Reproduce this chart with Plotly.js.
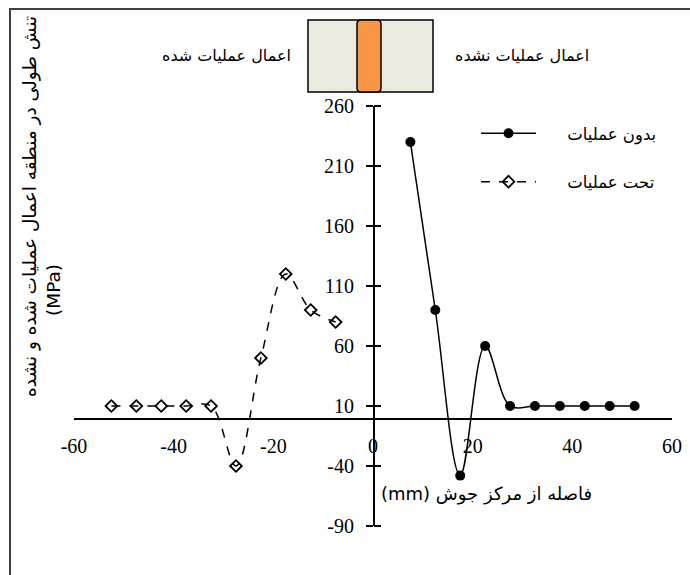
<!DOCTYPE html>
<html>
<head>
<meta charset="utf-8">
<script src="https://cdn.plot.ly/plotly-3.0.1.min.js"></script>
<style>
html,body{margin:0;padding:0;background:#fff;}
#chart{width:690px;height:575px;}
</style>
</head>
<body>
<div id="chart"></div>
<script>
// ---- data ----
const xUntreated = [7.5, 12.5, 17.5, 22.5, 27.5, 32.5, 37.5, 42.5, 47.5, 52.5];
const yUntreated = [230, 90, -48, 60, 10, 10, 10, 10, 10, 10];
const xTreated = [-52.5, -47.5, -42.5, -37.5, -32.5, -27.5, -22.5, -17.5, -12.5, -7.5];
const yTreated = [10, 10, 10, 10, 10, -40, 50, 120, 90, 80];
const nameUntreated = 'بدون عملیات';
const nameTreated = 'تحت عملیات';
const xTicks = [-60, -40, -20, 0, 20, 40, 60];
const yTicks = [-90, -40, 10, 60, 110, 160, 210, 260];
const yTitle1 = 'تنش طولی در منطقه اعمال عملیات شده و نشده';
const yTitle2 = '(MPa)';
const xTitle = '(mm) فاصله از مرکز جوش';
const labelTreatedSide = 'اعمال عملیات شده';
const labelUntreatedSide = 'اعمال عملیات نشده';

// ---- layout helpers (pixel -> paper) ----
const W = 690, H = 575;
const M = {l: 74, r: 18, t: 106, b: 49};
const PW = W - M.l - M.r, PH = H - M.t - M.b;
const X = px => (px - M.l) / PW;
const Y = py => (H - M.b - py) / PH;

const persian = 'DejaVu Sans, sans-serif';
const serif = 'Liberation Serif, serif';
const pad = '\u00A0\u00A0\u00A0\u00A0\u00A0';

const traces = [
  {
    x: xUntreated, y: yUntreated, name: pad + nameUntreated, type: 'scatter', mode: 'lines+markers',
    line: {color: '#000', width: 1.5, shape: 'spline', smoothing: 1},
    marker: {symbol: 'circle', size: 10, color: '#000'},
    legendgroup: 'a'
  },
  {
    x: xTreated, y: yTreated, name: pad + nameTreated, type: 'scatter', mode: 'lines+markers',
    line: {color: '#000', width: 1.5, dash: 'dash', shape: 'spline', smoothing: 1},
    marker: {symbol: 'diamond-open', size: 9, color: '#000', line: {width: 1.8, color: '#000'}},
    legendgroup: 'b'
  },
  // invisible trace to carry right-side tick marks on the y axis
  {x: [0], y: [0], yaxis: 'y2', mode: 'markers', marker: {opacity: 0}, showlegend: false, hoverinfo: 'skip'}
];

// rounded bar path
function roundRect(x0, y0, x1, y1, r) {
  const rx = r / PW, ry = r / PH;
  const a = X(x0), b = X(x1), c = Y(y1), d = Y(y0);
  return `M${a + rx},${d} L${b - rx},${d} Q${b},${d} ${b},${d - ry} L${b},${c + ry} Q${b},${c} ${b - rx},${c} L${a + rx},${c} Q${a},${c} ${a},${c + ry} L${a},${d - ry} Q${a},${d} ${a + rx},${d} Z`;
}

function note(px, py, text, size, extra) {
  return Object.assign({xref: 'paper', yref: 'paper', x: X(px), y: Y(py), text: text, showarrow: false,
    xanchor: 'center', yanchor: 'middle', font: {family: persian, size: size, color: '#000'}}, extra || {});
}

const layout = {
  width: W, height: H,
  margin: M,
  paper_bgcolor: '#fff', plot_bgcolor: 'rgba(0,0,0,0)',
  showlegend: true,
  legend: {
    x: X(476), y: Y(116), xanchor: 'left', yanchor: 'top',
    font: {family: persian, size: 16.5, color: '#000'},
    bgcolor: 'rgba(0,0,0,0)', traceorder: 'grouped', tracegroupgap: 24,
    itemwidth: 55
  },
  xaxis: {
    range: [-60, 60], tickvals: xTicks, ticktext: xTicks.map(String),
    anchor: 'free', position: 90 / 350,
    showline: true, linecolor: '#000', linewidth: 1.5,
    ticks: '', showgrid: false, zeroline: false,
    tickfont: {family: serif, size: 20, color: '#000'},
    ticklabelstandoff: 9
  },
  yaxis: {
    range: [-90, 260], tickvals: yTicks, ticktext: yTicks.map(String),
    anchor: 'free', position: 0.5, side: 'left',
    showline: true, linecolor: '#000', linewidth: 1.5,
    ticks: 'outside', ticklen: 7, tickwidth: 1.5, tickcolor: '#000',
    showgrid: false, zeroline: false,
    tickfont: {family: serif, size: 20, color: '#000'},
    ticklabelstandoff: 8
  },
  yaxis2: {
    range: [-90, 260], tickvals: yTicks, overlaying: 'y',
    anchor: 'free', position: 0.5, side: 'right',
    showline: false, ticks: 'outside', ticklen: 7, tickwidth: 1.5, tickcolor: '#000',
    showticklabels: false, showgrid: false, zeroline: false
  },
  shapes: [
    // outer frame (left and top edges)
    {type: 'rect', xref: 'paper', yref: 'paper', x0: X(10), x1: X(760), y0: Y(640), y1: Y(9),
     line: {color: '#404040', width: 2}, fillcolor: 'rgba(0,0,0,0)', layer: 'below'},
    // specimen picture
    {type: 'rect', xref: 'paper', yref: 'paper', x0: X(308), x1: X(433), y0: Y(92), y1: Y(20),
     line: {color: '#000', width: 1.5}, fillcolor: '#ECEBE0'},
    {type: 'path', xref: 'paper', yref: 'paper', path: roundRect(357, 20, 381, 92, 4),
     line: {color: '#000', width: 1.5}, fillcolor: '#F79646'}
  ],
  annotations: [
    note(226, 56, labelTreatedSide, 16),
    note(522, 56, labelUntreatedSide, 16),
    note(30, 207, yTitle1, 18.5, {textangle: -90}),
    note(53, 290, yTitle2, 18.5, {textangle: -90}),
    note(486, 494, xTitle, 18)
  ]
};

Plotly.newPlot('chart', traces, layout, {displayModeBar: false, staticPlot: true});
</script>
</body>
</html>
